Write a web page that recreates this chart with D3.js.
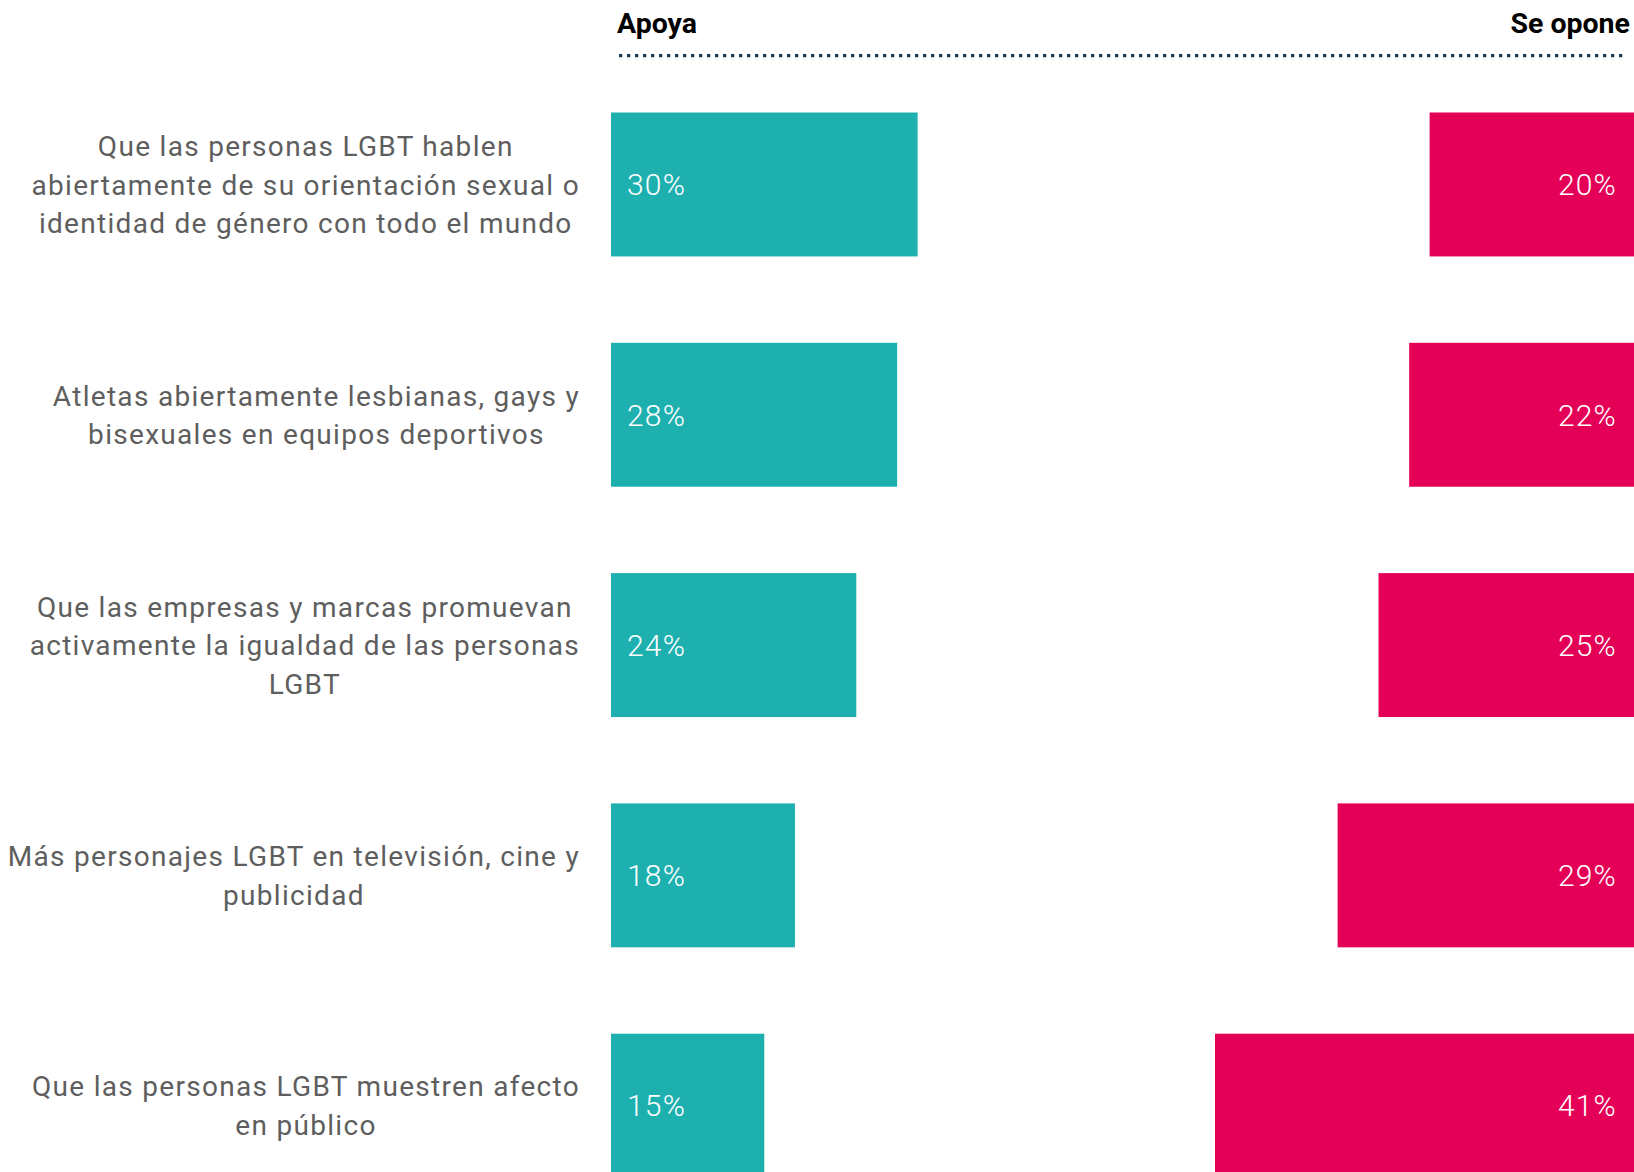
<!DOCTYPE html>
<html>
<head>
<meta charset="utf-8">
<script src="https://cdn.jsdelivr.net/npm/d3@7"></script>
<style>
  html, body { margin: 0; padding: 0; background: #fff; overflow: hidden; }
  svg { display: block; }
</style>
</head>
<body>
<div id="chart"></div>
<script>
// Data
const categories = [
  "Que las personas LGBT hablen\nabiertamente de su orientación sexual o\nidentidad de género con todo el mundo",
  "Atletas abiertamente lesbianas, gays y\nbisexuales en equipos deportivos",
  "Que las empresas y marcas promuevan\nactivamente la igualdad de las personas\nLGBT",
  "Más personajes LGBT en televisión, cine y\npublicidad",
  "Que las personas LGBT muestren afecto\nen público"
];
const supportValues = [30, 28, 24, 18, 15];
const opposeValues = [20, 22, 25, 29, 41];
const seriesNames = ["Apoya", "Se opone"];

const width = 1634;
const height = 1172;
const barLeft = 611;
const barRight = 1634;
const labelRight = 580;
const lineGap = 38.6;

const svg = d3.select('#chart')
  .append('svg')
  .attr('width', width)
  .attr('height', height);

// Scales
const y = d3.scaleBand()
  .domain(categories)
  .range([112.5, 112.5 + 230.3 * 4.625])
  .paddingInner(0.375)
  .paddingOuter(0);

const x = d3.scaleLinear()
  .domain([0, 100])
  .range([0, 1022]);

const teal = '#1eb0af';
const pink = '#e40057';

// Header
svg.append('text')
  .attr('x', 617)
  .attr('y', 33)
  .attr('font-family', 'Roboto, sans-serif')
  .attr('font-weight', 700)
  .attr('font-size', 28.5)
  .attr('fill', '#000')
  .text(seriesNames[0]);

svg.append('text')
  .attr('x', 1630)
  .attr('y', 33)
  .attr('text-anchor', 'end')
  .attr('font-family', 'Roboto, sans-serif')
  .attr('font-weight', 700)
  .attr('font-size', 28.5)
  .attr('fill', '#000')
  .text(seriesNames[1]);

svg.append('line')
  .attr('x1', 619)
  .attr('x2', 1626)
  .attr('y1', 55.7)
  .attr('y2', 55.7)
  .attr('stroke', '#1b3d4f')
  .attr('stroke-width', 3.3)
  .attr('stroke-dasharray', '3.3,4.7');

// Bars
const rows = categories.map((c, i) => ({cat: c, sup: supportValues[i], opp: opposeValues[i]}));

svg.append('g')
  .selectAll('rect')
  .data(rows)
  .join('rect')
  .attr('x', barLeft)
  .attr('y', d => y(d.cat))
  .attr('width', d => x(d.sup))
  .attr('height', y.bandwidth())
  .attr('fill', teal);

svg.append('g')
  .selectAll('rect')
  .data(rows)
  .join('rect')
  .attr('x', d => barRight - x(d.opp))
  .attr('y', d => y(d.cat))
  .attr('width', d => x(d.opp))
  .attr('height', y.bandwidth())
  .attr('fill', pink);

// Value labels
svg.append('g')
  .selectAll('text')
  .data(rows)
  .join('text')
  .attr('x', barLeft + 16)
  .attr('y', d => y(d.cat) + y.bandwidth() / 2)
  .attr('dy', '0.36em')
  .attr('font-family', 'Roboto, sans-serif')
  .attr('font-weight', 300)
  .attr('font-size', 30)
  .attr('letter-spacing', 1.2)
  .attr('fill', '#fff')
  .text(d => d.sup + '%');

svg.append('g')
  .selectAll('text')
  .data(rows)
  .join('text')
  .attr('x', barRight - 17)
  .attr('y', d => y(d.cat) + y.bandwidth() / 2)
  .attr('dy', '0.36em')
  .attr('text-anchor', 'end')
  .attr('font-family', 'Roboto, sans-serif')
  .attr('font-weight', 300)
  .attr('font-size', 30)
  .attr('letter-spacing', 1.2)
  .attr('fill', '#fff')
  .text(d => d.opp + '%');

// Category labels: block right-aligned, lines centred inside it
const labels = svg.append('g')
  .selectAll('g')
  .data(rows)
  .join('g');

labels.each(function (d) {
  const g = d3.select(this);
  const lines = d.cat.split('\n');
  const cy = y(d.cat) + y.bandwidth() / 2;
  const t = g.selectAll('text')
    .data(lines)
    .join('text')
    .attr('y', (l, i) => cy + (i - (lines.length - 1) / 2) * lineGap)
    .attr('dy', '0.36em')
    .attr('text-anchor', 'middle')
    .attr('font-family', 'Roboto, sans-serif')
    .attr('font-size', 28)
    .attr('letter-spacing', 1.3)
    .attr('fill', '#5e5e5e')
    .text(l => l);
  let maxW = 0;
  t.each(function () { maxW = Math.max(maxW, this.getComputedTextLength()); });
  t.attr('x', labelRight - maxW / 2);
});
</script>
</body>
</html>
